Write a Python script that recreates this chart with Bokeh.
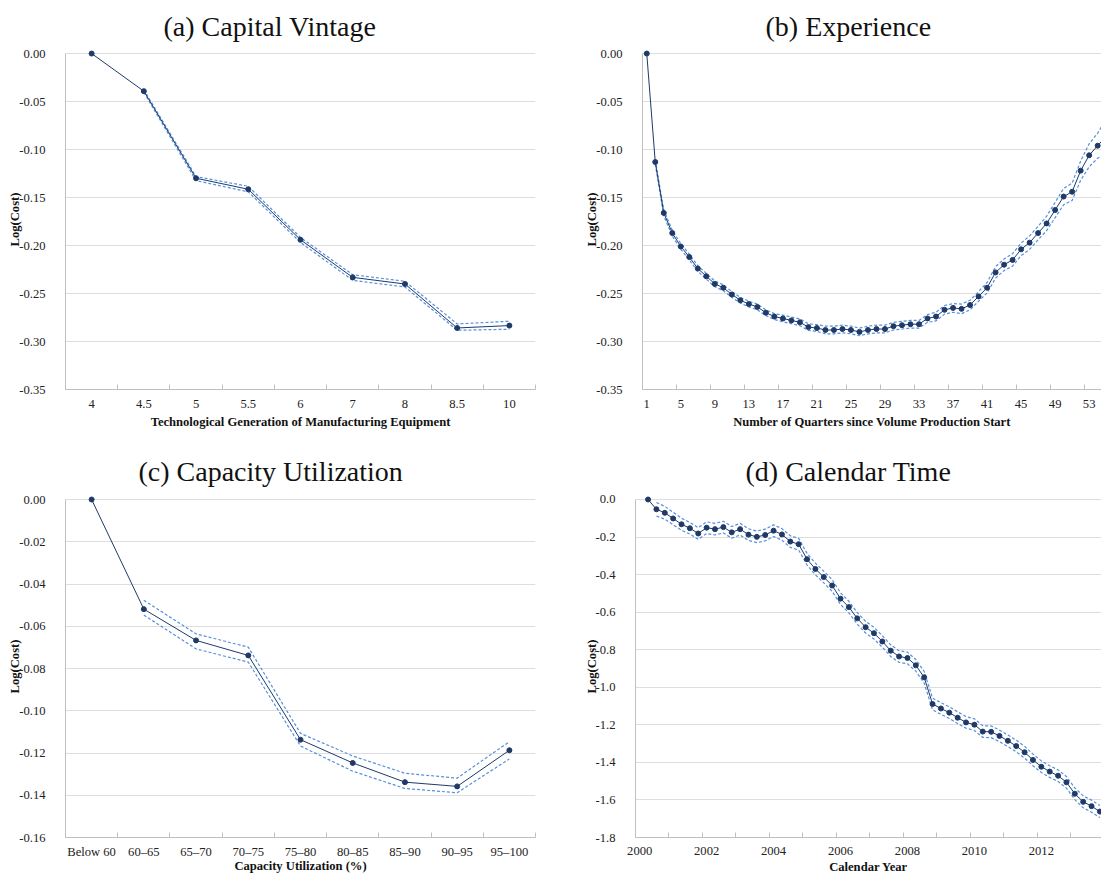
from bokeh.plotting import figure
from bokeh.layouts import row, column
from bokeh.models import FixedTicker, NumeralTickFormatter, Range1d, Title
from bokeh.embed import file_html
from bokeh.resources import INLINE

# ---------------- (a) Capital Vintage ----------------
vintage_labels = ["4", "4.5", "5", "5.5", "6", "7", "8", "8.5", "10"]
vintage_cost = [0.0, -0.0392, -0.1299, -0.1414, -0.1940, -0.2332, -0.2401, -0.2859, -0.2834]
vintage_upper = [-0.0378, -0.1282, -0.1383, -0.1916, -0.2304, -0.2373, -0.2817, -0.2789]
vintage_lower = [-0.0405, -0.1324, -0.1441, -0.1968, -0.2363, -0.2432, -0.2883, -0.2872]
vintage_yticks = [0.0, -0.05, -0.10, -0.15, -0.20, -0.25, -0.30, -0.35]

# ---------------- (b) Experience ----------------
quarter_labels = ["1", "5", "9", "13", "17", "21", "25", "29", "33", "37", "41", "45", "49", "53"]
quarter_label_pos = [1, 5, 9, 13, 17, 21, 25, 29, 33, 37, 41, 45, 49, 53]
experience_cost = [
    0.0, -0.113, -0.166, -0.187, -0.201, -0.212, -0.224, -0.232, -0.240, -0.244,
    -0.251, -0.257, -0.261, -0.264, -0.270, -0.274, -0.276, -0.278, -0.280, -0.285,
    -0.286, -0.288, -0.288, -0.287, -0.288, -0.290, -0.288, -0.287, -0.287, -0.284,
    -0.283, -0.282, -0.282, -0.276, -0.274, -0.267, -0.265, -0.266, -0.262, -0.253,
    -0.244, -0.228, -0.220, -0.215, -0.204, -0.197, -0.187, -0.177, -0.163, -0.149,
    -0.144, -0.122, -0.106, -0.096, -0.086,
]
# half-width of the confidence band, from quarter 2 onward
experience_halfwidth = [
    0.002, 0.003, 0.003, 0.003, 0.003, 0.003, 0.003, 0.003, 0.003,
    0.003, 0.003, 0.003, 0.003, 0.003, 0.003, 0.0035, 0.0035, 0.0035, 0.0035,
    0.0035, 0.004, 0.004, 0.004, 0.004, 0.004, 0.004, 0.004, 0.004, 0.004,
    0.004, 0.004, 0.004, 0.004, 0.0045, 0.0045, 0.0045, 0.005, 0.005, 0.005,
    0.0055, 0.006, 0.006, 0.0065, 0.0065, 0.007, 0.007, 0.0075, 0.008, 0.0085,
    0.009, 0.010, 0.012, 0.013, 0.018,
]
experience_yticks = vintage_yticks

# ---------------- (c) Capacity Utilization ----------------
util_labels = ["Below 60", "60\u201365", "65\u201370", "70\u201375", "75\u201380",
               "80\u201385", "85\u201390", "90\u201395", "95\u2013100"]
util_cost = [0.0, -0.0519, -0.0667, -0.0738, -0.1137, -0.1247, -0.1338, -0.1358, -0.1187]
util_upper = [-0.0477, -0.0636, -0.0699, -0.1107, -0.1214, -0.1296, -0.1319, -0.1146]
util_lower = [-0.0547, -0.0707, -0.0770, -0.1167, -0.1286, -0.1368, -0.1388, -0.1228]
util_yticks = [0.0, -0.02, -0.04, -0.06, -0.08, -0.10, -0.12, -0.14, -0.16]

# ---------------- (d) Calendar Time ----------------
# quarterly index: 1 = 2000Q1; the series starts in 2000Q2
year_labels = ["2000", "2002", "2004", "2006", "2008", "2010", "2012"]
year_label_pos = [1, 9, 17, 25, 33, 41, 49]
calendar_cost = [
    0.0, -0.052, -0.071, -0.101, -0.132, -0.153, -0.181, -0.150, -0.158, -0.147,
    -0.175, -0.158, -0.187, -0.199, -0.189, -0.166, -0.186, -0.224, -0.238, -0.318,
    -0.370, -0.413, -0.458, -0.528, -0.573, -0.633, -0.680, -0.712, -0.756, -0.805,
    -0.836, -0.844, -0.883, -0.947, -1.089, -1.113, -1.135, -1.162, -1.187, -1.199,
    -1.236, -1.237, -1.259, -1.285, -1.313, -1.346, -1.387, -1.423, -1.449, -1.471,
    -1.506, -1.567, -1.610, -1.633, -1.662,
]
calendar_halfwidth = [
    0.036, 0.034, 0.033, 0.032, 0.031, 0.031, 0.031, 0.031, 0.031,
    0.031, 0.031, 0.031, 0.031, 0.031, 0.031, 0.031, 0.031, 0.031, 0.031,
    0.031, 0.031, 0.031, 0.031, 0.031, 0.031, 0.031, 0.031, 0.031, 0.031,
    0.031, 0.031, 0.031, 0.031, 0.031, 0.031, 0.031, 0.031, 0.031, 0.031,
    0.031, 0.031, 0.031, 0.031, 0.031, 0.031, 0.031, 0.031, 0.031, 0.031,
    0.031, 0.031, 0.032, 0.032, 0.032,
]
calendar_yticks = [0.0, -0.2, -0.4, -0.6, -0.8, -1.0, -1.2, -1.4, -1.6, -1.8]

NAVY = "#1f3a68"
BAND = "#5590dd"
AXIS_GRAY = "#bfbfbf"
GRID_GRAY = "#dedede"
SERIF = "Liberation Serif"


def make_panel(title, title_offset, title_standoff, width, height, border, x_range,
               y_range, yticks, yfmt, xlabel_pos, xlabel_text, xminor, xtitle,
               label_standoff, xtitle_standoff, ytitle_standoff):
    left, right, top, bottom = border
    p = figure(width=width, height=height, x_range=Range1d(*x_range),
               y_range=Range1d(*y_range), toolbar_location=None, output_backend="svg",
               min_border_left=left, min_border_right=right,
               min_border_top=top, min_border_bottom=bottom)
    p.title = Title(text=title, align="left", offset=title_offset, standoff=title_standoff,
                    text_font=SERIF, text_font_size="28px", text_font_style="normal",
                    text_color="#111111")
    p.outline_line_color = None
    p.background_fill_color = "white"
    p.border_fill_color = "white"

    p.xgrid.visible = False
    p.ygrid.grid_line_color = GRID_GRAY
    p.ygrid.grid_line_width = 1

    ya = p.yaxis[0]
    ya.ticker = FixedTicker(ticks=yticks)
    ya.formatter = NumeralTickFormatter(format=yfmt)
    ya.bounds = (min(yticks), max(yticks))
    ya.axis_line_color = AXIS_GRAY
    ya.major_tick_line_color = None
    ya.minor_tick_line_color = None
    ya.major_label_standoff = 14
    ya.major_label_text_font = SERIF
    ya.major_label_text_font_size = "12.6px"
    ya.major_label_text_color = "#222222"
    ya.axis_label = "Log(Cost)"
    ya.axis_label_text_font = SERIF
    ya.axis_label_text_font_style = "bold"
    ya.axis_label_text_font_size = "12.6px"
    ya.axis_label_text_color = "#111111"
    ya.axis_label_standoff = ytitle_standoff

    xa = p.xaxis[0]
    xa.ticker = FixedTicker(ticks=xlabel_pos, minor_ticks=xminor)
    xa.major_label_overrides = {pos: txt for pos, txt in zip(xlabel_pos, xlabel_text)}
    xa.axis_line_color = AXIS_GRAY
    xa.major_tick_line_color = None
    xa.major_tick_in = 0
    xa.major_tick_out = 0
    xa.minor_tick_line_color = AXIS_GRAY
    xa.minor_tick_in = 5
    xa.minor_tick_out = 0
    xa.major_label_standoff = label_standoff
    xa.major_label_text_font = SERIF
    xa.major_label_text_font_size = "12.6px"
    xa.major_label_text_color = "#222222"
    xa.axis_label = xtitle
    xa.axis_label_text_font = SERIF
    xa.axis_label_text_font_style = "bold"
    xa.axis_label_text_font_size = "12.6px"
    xa.axis_label_text_color = "#111111"
    xa.axis_label_standoff = xtitle_standoff
    return p


def draw_series(p, xs, ys, band_x, upper, lower):
    p.line(band_x, upper, line_color=BAND, line_width=1.2, line_dash="3 2")
    p.line(band_x, lower, line_color=BAND, line_width=1.2, line_dash="3 2")
    p.line(xs, ys, line_color=NAVY, line_width=1)
    p.scatter(xs, ys, size=5, fill_color=NAVY, line_color=NAVY)


# (a)
n_a = len(vintage_labels)
xa_pos = list(range(1, n_a + 1))
pa = make_panel("(a) Capital Vintage", 98, 16, 550, 440, (65, 15, 49, 51),
                (0.5, n_a + 0.5), (-0.35, 0.0042), vintage_yticks, "0.00",
                xa_pos, vintage_labels, [k + 0.5 for k in range(0, n_a + 1)],
                "Technological Generation of Manufacturing Equipment", 10, 4, -6)
draw_series(pa, xa_pos, vintage_cost, xa_pos[1:], vintage_upper, vintage_lower)

# (b)
xb_pos = list(range(1, len(experience_cost) + 1))
b_upper = [c + h for c, h in zip(experience_cost[1:], experience_halfwidth)]
b_lower = [c - h for c, h in zip(experience_cost[1:], experience_halfwidth)]
pb = make_panel("(b) Experience", 123, 16, 551, 440, (92, 0, 49, 51),
                (0.5, 54.45), (-0.35, 0.0042), experience_yticks, "0.00",
                quarter_label_pos, quarter_labels, [k + 0.5 for k in range(0, 60, 4)],
                "Number of Quarters since Volume Production Start", 10, 4, -6)
draw_series(pb, xb_pos, experience_cost, xb_pos[1:], b_upper, b_lower)

# (c)
n_c = len(util_labels)
xc_pos = list(range(1, n_c + 1))
pc = make_panel("(c) Capacity Utilization", 73, 18, 550, 436, (65, 15, 55, 39),
                (0.5, n_c + 0.5), (-0.16, 0.0019), util_yticks, "0.00",
                xc_pos, util_labels, [k + 0.5 for k in range(0, n_c + 1)],
                "Capacity Utilization (%)", 7, -3, -6)
draw_series(pc, xc_pos, util_cost, xc_pos[1:], util_upper, util_lower)

# (d)
xd_pos = list(range(2, len(calendar_cost) + 2))
d_upper = [c + h for c, h in zip(calendar_cost[1:], calendar_halfwidth)]
d_lower = [c - h for c, h in zip(calendar_cost[1:], calendar_halfwidth)]
pd_ = make_panel("(d) Calendar Time", 110, 18, 551, 436, (85, 0, 55, 39),
                 (0.5, 56.19), (-1.8, 0.0213), calendar_yticks, "0.0",
                 year_label_pos, year_labels, [k + 0.5 for k in range(0, 60, 4)],
                 "Calendar Year", 9, 2, -6)
draw_series(pd_, xd_pos, calendar_cost, xd_pos[1:], d_upper, d_lower)

layout = column(row(pa, pb), row(pc, pd_))
open("out.html", "w").write(file_html(layout, INLINE))
